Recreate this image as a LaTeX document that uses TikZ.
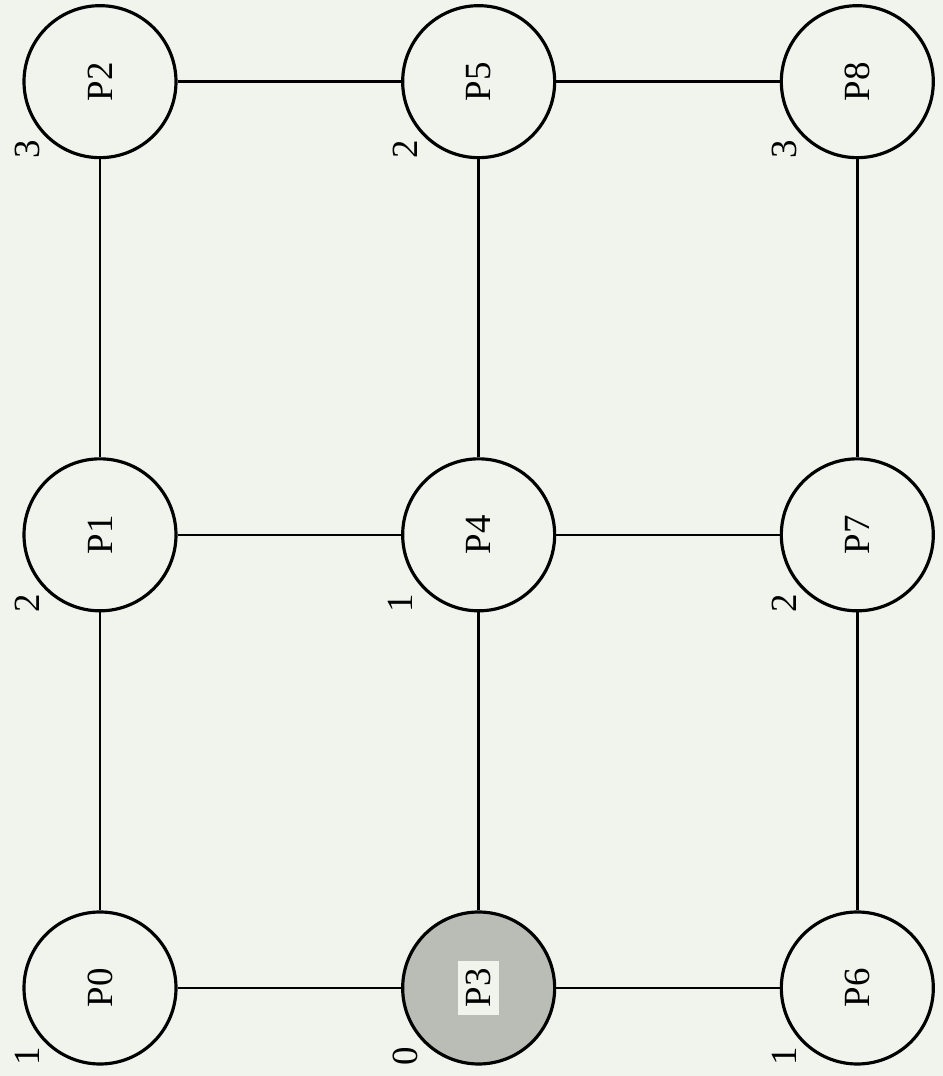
\documentclass[tikz,border=0pt]{standalone}
\usepackage{fontspec}
\setmainfont{Liberation Serif}
\usetikzlibrary{positioning}
\definecolor{paper}{RGB}{241,244,236}
\definecolor{shade}{RGB}{186,188,182}
\newcommand{\rot}[1]{\rotatebox{90}{#1}}

\begin{document}
\begin{tikzpicture}[
  proc/.style={draw, circle, line width=1.8pt, minimum size=3.04cm,
               inner sep=0pt, font=\fontsize{21}{25}\selectfont},
  num/.style={inner sep=0pt, font=\fontsize{21}{25}\selectfont},
  link/.style={line width=1.4pt},
  node distance=5.96cm and 4.47cm,
  ]
  \fill[paper] (0,0) rectangle (18.86,21.52);
  \useasboundingbox (0,0) rectangle (18.86,21.52);

  % bottom row
  \node[proc] (p0) at (2.0,1.76) {\rot{P0}};
  \node[proc, fill=shade, right=of p0] (p3) {\setlength{\fboxsep}{4.5pt}\colorbox{paper}{\rot{P3}}};
  \node[proc, right=of p3] (p6) {\rot{P6}};
  % middle row
  \node[proc, above=of p0] (p1) {\rot{P1}};
  \node[proc, above=of p3] (p4) {\rot{P4}};
  \node[proc, above=of p6] (p7) {\rot{P7}};
  % top row
  \node[proc, above=of p1] (p2) {\rot{P2}};
  \node[proc, above=of p4] (p5) {\rot{P5}};
  \node[proc, above=of p7] (p8) {\rot{P8}};

  % distances
  \node[num] (d0) at ([shift={(-1.46,-1.36)}]p0) {\rot{1}};
  \node[num] (d3) at ([shift={(-1.46,-1.36)}]p3) {\rot{0}};
  \node[num] (d6) at ([shift={(-1.46,-1.36)}]p6) {\rot{1}};
  \node[num] (d1) at ([shift={(-1.46,-1.36)}]p1) {\rot{2}};
  \node[num] (d4) at ([shift={(-1.56,-1.36)}]p4) {\rot{1}};
  \node[num] (d7) at ([shift={(-1.46,-1.36)}]p7) {\rot{2}};
  \node[num] (d2) at ([shift={(-1.46,-1.36)}]p2) {\rot{3}};
  \node[num] (d5) at ([shift={(-1.46,-1.36)}]p5) {\rot{2}};
  \node[num] (d8) at ([shift={(-1.46,-1.36)}]p8) {\rot{3}};

  \draw[link] (p0) -- (p3);
  \draw[link] (p3) -- (p6);
  \draw[link] (p1) -- (p4);
  \draw[link] (p4) -- (p7);
  \draw[link] (p2) -- (p5);
  \draw[link] (p5) -- (p8);
  \draw[link] (p0) -- (p1);
  \draw[link] (p1) -- (p2);
  \draw[link] (p3) -- (p4);
  \draw[link] (p4) -- (p5);
  \draw[link] (p6) -- (p7);
  \draw[link] (p7) -- (p8);
\end{tikzpicture}
\end{document}
